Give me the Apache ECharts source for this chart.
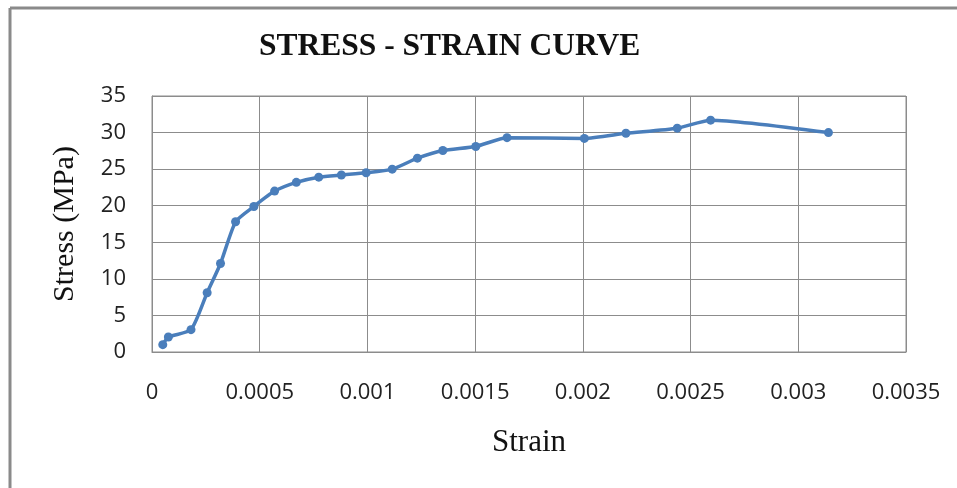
<!DOCTYPE html>
<html><head><meta charset="utf-8">
<script src="https://cdn.jsdelivr.net/npm/echarts@6/dist/echarts.min.js"></script>
<style>html,body{margin:0;padding:0;background:#fff}#c{width:957px;height:488px}</style>
</head><body><div id="c"></div>
<script>
var strain = [0.00005, 0.000076, 0.000181, 0.000256, 0.000318, 0.000388, 0.000473, 0.000569, 0.00067, 0.000774, 0.000879, 0.000994, 0.001115, 0.001232, 0.00135, 0.001503, 0.001648, 0.002007, 0.0022, 0.002438, 0.002593, 0.00314];
var stress = [1.0, 2.05, 3.05, 8.1, 12.1, 17.8, 19.9, 22.0, 23.2, 23.9, 24.2, 24.5, 25.0, 26.5, 27.55, 28.1, 29.3, 29.2, 29.9, 30.6, 31.7, 30.0];
var titleText = 'STRESS - STRAIN CURVE';
var xName = 'Strain';
var yName = 'Stress (MPa)';

var pts = strain.map(function (s, i) { return [s, stress[i]]; });
var chart = echarts.init(document.getElementById('c'));
chart.setOption({
  animation: false,
  title: {
    text: titleText, left: 254, top: 26,
    textStyle: { fontFamily: 'Liberation Serif', fontWeight: 'bold', fontSize: 31.5, color: '#111' }
  },
  graphic: [
    { type: 'line', shape: { x1: 10, y1: 8, x2: 957, y2: 8 }, style: { stroke: '#8a8a8a', lineWidth: 3 } },
    { type: 'line', shape: { x1: 10, y1: 8, x2: 10, y2: 488 }, style: { stroke: '#8a8a8a', lineWidth: 3 } }
  ],
  grid: { left: 152, right: 51, top: 96, bottom: 136, show: true, borderColor: '#8c8c8c', borderWidth: 1 },
  xAxis: {
    type: 'value', min: 0, max: 0.0035, interval: 0.0005,
    name: xName, nameLocation: 'middle', nameGap: 75,
    nameTextStyle: { fontFamily: 'Liberation Serif', fontSize: 31, color: '#111' },
    axisLine: { show: true, lineStyle: { color: '#8c8c8c' } },
    axisTick: { show: false },
    axisLabel: { margin: 30, fontFamily: 'Open Sans', fontSize: 22, color: '#222',
      formatter: function (v) { return String(parseFloat(v.toFixed(5))); } },
    splitLine: { show: true, lineStyle: { color: '#8c8c8c', width: 1 } }
  },
  yAxis: {
    type: 'value', min: 0, max: 35, interval: 5,
    name: yName, nameLocation: 'middle', nameGap: 72,
    nameTextStyle: { fontFamily: 'Liberation Serif', fontSize: 30, color: '#111' },
    axisLine: { show: true, lineStyle: { color: '#8c8c8c' } },
    axisTick: { show: false },
    axisLabel: { margin: 26, fontFamily: 'Open Sans', fontSize: 22, color: '#222' },
    splitLine: { show: true, lineStyle: { color: '#8c8c8c', width: 1 } }
  },
  series: [{
    type: 'line', data: pts, smooth: 0.2,
    symbol: 'circle', symbolSize: 9,
    lineStyle: { color: '#4a7ebb', width: 3.5 },
    itemStyle: { color: '#4a7ebb' }
  }]
});
</script></body></html>
